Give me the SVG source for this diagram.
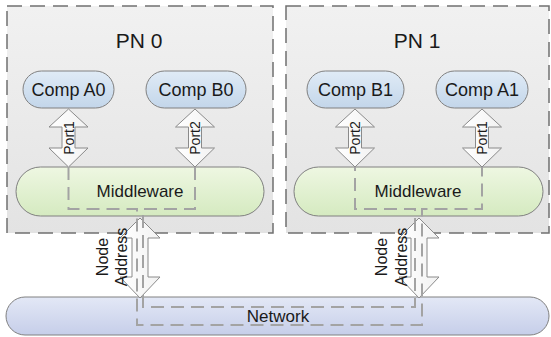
<svg xmlns="http://www.w3.org/2000/svg" width="551" height="337" viewBox="0 0 551 337">
<style>
.pn{fill:url(#gPN);stroke:#707070;stroke-width:1.5;stroke-dasharray:15 8}
.comp{fill:url(#gComp);stroke:#808080;stroke-width:1}
.mw{fill:url(#gMW);stroke:#808080;stroke-width:1}
.net{fill:url(#gNet);stroke:#808080;stroke-width:1}
.arr{fill:url(#gArr);stroke:#8a8a8a;stroke-width:1}
.lbl{font-family:"Liberation Sans",Arial,sans-serif;font-size:17px;fill:#1a1a1a;text-anchor:middle}
.clbl{font-family:"Liberation Sans",Arial,sans-serif;font-size:18px;fill:#1a1a1a;text-anchor:middle}
.ttl{font-family:"Liberation Sans",Arial,sans-serif;font-size:21px;fill:#1a1a1a;text-anchor:middle}
.port{font-family:"Liberation Sans",Arial,sans-serif;font-size:14px;fill:#1a1a1a;text-anchor:middle}
.na{font-family:"Liberation Sans",Arial,sans-serif;font-size:16px;fill:#1a1a1a;text-anchor:middle}
.dash{fill:none;stroke:#a3a3a3;stroke-width:2;stroke-dasharray:13 7}
</style>
<defs>
<linearGradient id="gPN" x1="0" y1="0" x2="0" y2="1"><stop offset="0" stop-color="#f1f1f1"/><stop offset="1" stop-color="#e3e3e3"/></linearGradient>
<linearGradient id="gComp" x1="0" y1="0" x2="0" y2="1"><stop offset="0" stop-color="#e0ebf6"/><stop offset="1" stop-color="#c3d6ea"/></linearGradient>
<linearGradient id="gMW" x1="0" y1="0" x2="0" y2="1"><stop offset="0" stop-color="#eef7e2"/><stop offset="1" stop-color="#d5eac0"/></linearGradient>
<linearGradient id="gNet" x1="0" y1="0" x2="0" y2="1"><stop offset="0" stop-color="#e3e8f6"/><stop offset="1" stop-color="#c6cee9"/></linearGradient>
<linearGradient id="gArr" x1="0" y1="0" x2="1" y2="0"><stop offset="0" stop-color="#ffffff"/><stop offset="1" stop-color="#f2f2f2"/></linearGradient>
</defs>

<g id="pn0">
<rect class="pn" x="7" y="6" width="266" height="227"/>
<text class="ttl" x="139" y="48">PN 0</text>
</g>
<g id="pn1">
<rect class="pn" x="286" y="6" width="263" height="227"/>
<text class="ttl" x="417" y="48">PN 1</text>
</g>

<g id="compA0"><rect class="comp" x="23" y="71" width="91" height="37" rx="18.5"/><text class="clbl" x="68.5" y="96">Comp A0</text></g>
<g id="compB0"><rect class="comp" x="146" y="71" width="100" height="37" rx="18.5"/><text class="clbl" x="196" y="96">Comp B0</text></g>
<g id="compB1"><rect class="comp" x="307" y="71" width="97" height="37" rx="18.5"/><text class="clbl" x="355.5" y="96">Comp B1</text></g>
<g id="compA1"><rect class="comp" x="436" y="71" width="92" height="37" rx="18.5"/><text class="clbl" x="482" y="96">Comp A1</text></g>

<g id="mw0"><rect class="mw" x="16" y="167" width="248" height="49" rx="24.5"/><text class="lbl" x="140" y="197">Middleware</text></g>
<g id="mw1"><rect class="mw" x="294" y="167" width="249" height="49" rx="24.5"/><text class="lbl" x="418" y="197">Middleware</text></g>

<g id="network"><rect class="net" x="6" y="297" width="543" height="38" rx="19"/><text class="lbl" x="278" y="322">Network</text></g>

<g id="connectors">
<g id="port1-pn0"><polygon class="arr" points="68.5,109 88,127 75,127 75,148 88,148 68.5,167 49,148 62,148 62,127 49,127"/><text class="port" transform="translate(73.5,138) rotate(-90)">Port1</text></g>
<g id="port2-pn0"><polygon class="arr" points="195,109 214.5,127 201.5,127 201.5,148 214.5,148 195,167 175.5,148 188.5,148 188.5,127 175.5,127"/><text class="port" transform="translate(200,138) rotate(-90)">Port2</text></g>
<g id="port2-pn1"><polygon class="arr" points="355,109 374.5,127 361.5,127 361.5,148 374.5,148 355,167 335.5,148 348.5,148 348.5,127 335.5,127"/><text class="port" transform="translate(360,138) rotate(-90)">Port2</text></g>
<g id="port1-pn1"><polygon class="arr" points="482,109 501.5,127 488.5,127 488.5,148 501.5,148 482,167 462.5,148 475.5,148 475.5,127 462.5,127"/><text class="port" transform="translate(487,138) rotate(-90)">Port1</text></g>
<g id="addr-pn0"><polygon class="arr" points="140,218 160,238 148,238 148,277 160,277 140,298 120,277 132,277 132,238 120,238"/>
<text class="na" transform="translate(108,257) rotate(-90)">Node</text>
<text class="na" transform="translate(127,257) rotate(-90)">Address</text></g>
<g id="addr-pn1"><polygon class="arr" points="419,218 439,238 427,238 427,277 439,277 419,298 399,277 411,277 411,238 399,238"/>
<text class="na" transform="translate(387,257) rotate(-90)">Node</text>
<text class="na" transform="translate(407,257) rotate(-90)">Address</text></g>
<path class="dash" d="M68.5 167 V209 H137 V325 H422 V209 H482 V167"/>
<path class="dash" d="M195 167 V209 H143 V307 H415 V209 H355 V167"/>
</g>
</svg>
